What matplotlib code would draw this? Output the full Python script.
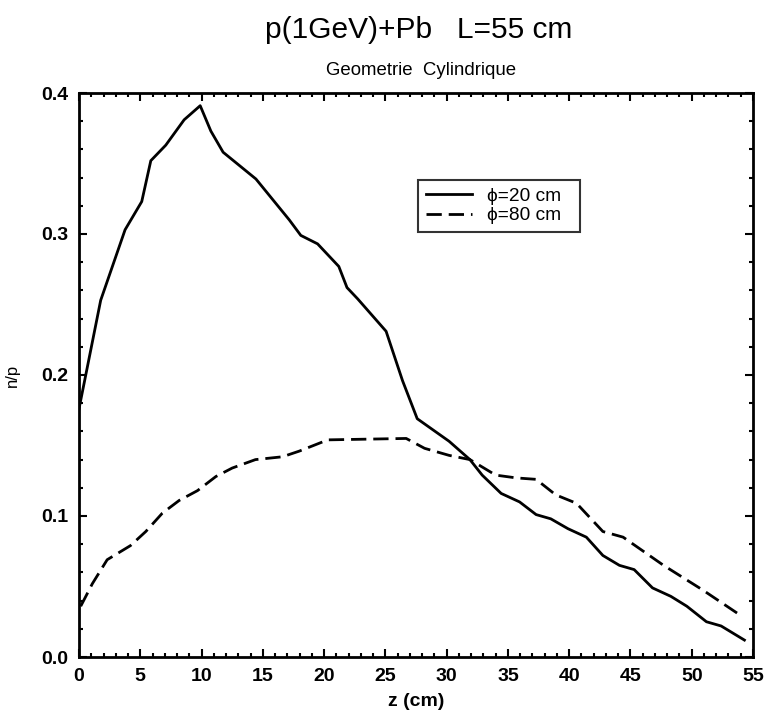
import matplotlib
matplotlib.use("Agg")
import matplotlib.pyplot as plt
from matplotlib.ticker import MultipleLocator

plt.rcParams['font.family'] = ['Liberation Sans', 'DejaVu Sans']

# phi = 20 cm (solid)
z20 = [0.0, 1.77, 3.76, 5.12, 5.86, 7.08, 8.58, 9.89, 10.76, 11.76, 14.44, 17.16,
       18.1, 19.47, 21.2, 21.87, 22.74, 25.06, 26.4, 27.6, 30.2, 31.9, 32.9, 34.45,
       35.95, 37.3, 38.5, 39.9, 41.4, 42.75, 44.1, 45.3, 46.8, 48.3, 49.6, 51.2,
       52.4, 54.3]
np20 = [0.176, 0.253, 0.303, 0.323, 0.352, 0.363, 0.381, 0.391, 0.373, 0.358, 0.339, 0.310,
        0.299, 0.293, 0.277, 0.262, 0.254, 0.231, 0.196, 0.169, 0.153, 0.140, 0.129, 0.116,
        0.110, 0.101, 0.098, 0.091, 0.085, 0.072, 0.065, 0.062, 0.049, 0.043, 0.036, 0.025,
        0.022, 0.012]

# phi = 80 cm (dashed)
z80 = [0.14, 1.09, 2.3, 4.2, 5.45, 6.8, 8.17, 9.67, 11.17, 12.5, 14.4, 16.6, 17.97,
       20.3, 26.7, 28.2, 30.2, 31.9, 34.0, 35.7, 37.3, 38.9, 40.6, 42.75, 44.4,
       47.7, 50.9, 53.9]
np80 = [0.036, 0.052, 0.069, 0.079, 0.089, 0.102, 0.111, 0.118, 0.128, 0.134, 0.140, 0.142, 0.146,
        0.154, 0.155, 0.148, 0.143, 0.140, 0.129, 0.127, 0.126, 0.115, 0.109, 0.089, 0.085,
        0.065, 0.0475, 0.030]

fig = plt.figure(figsize=(7.65, 7.1), dpi=100)
ax = fig.add_axes([79 / 765, 1 - 657 / 710, (753 - 79) / 765, (657 - 93) / 710])

ax.plot(z20, np20, color='black', lw=2.0, label='ϕ=20 cm  ')
ax.plot(z80, np80, color='black', lw=2.0, ls=(0, (5.5, 2.5)), label='ϕ=80 cm  ')

ax.set_xlim(0, 55)
ax.set_ylim(0, 0.4)
ax.xaxis.set_major_locator(MultipleLocator(5))
ax.xaxis.set_minor_locator(MultipleLocator(1))
ax.yaxis.set_major_locator(MultipleLocator(0.1))
ax.yaxis.set_minor_locator(MultipleLocator(0.02))
ax.tick_params(which='both', direction='in', top=True, right=True, width=1.5)
ax.tick_params(which='major', length=6, labelsize=14, pad=8)
ax.tick_params(which='minor', length=3)
for lbl in ax.get_xticklabels() + ax.get_yticklabels():
    lbl.set_fontweight('bold')
for s in ax.spines.values():
    s.set_linewidth(2)

ax.set_xlabel('z (cm)', fontsize=14, fontweight='bold')
ax.xaxis.set_label_coords(0.5, -0.063)
ax.set_ylabel('n/p', fontsize=12)
ax.yaxis.set_label_coords(-0.087, 0.5)

fig.text(0.547, 1 - 38 / 710, 'p(1GeV)+Pb   L=55 cm', ha='center', va='baseline', fontsize=21.5)
fig.text(0.550, 1 - 75 / 710, 'Geometrie  Cylindrique', ha='center', va='baseline', fontsize=13.4)

leg = ax.legend(loc='upper left', bbox_to_anchor=(0.503, 0.846), borderaxespad=0,
                fontsize=13.8, frameon=True, fancybox=False, edgecolor='black',
                handlelength=2.4, borderpad=0.4, labelspacing=0.1, handletextpad=0.8)
leg.get_frame().set_linewidth(1.5)

fig.savefig('out.png', dpi=100)
